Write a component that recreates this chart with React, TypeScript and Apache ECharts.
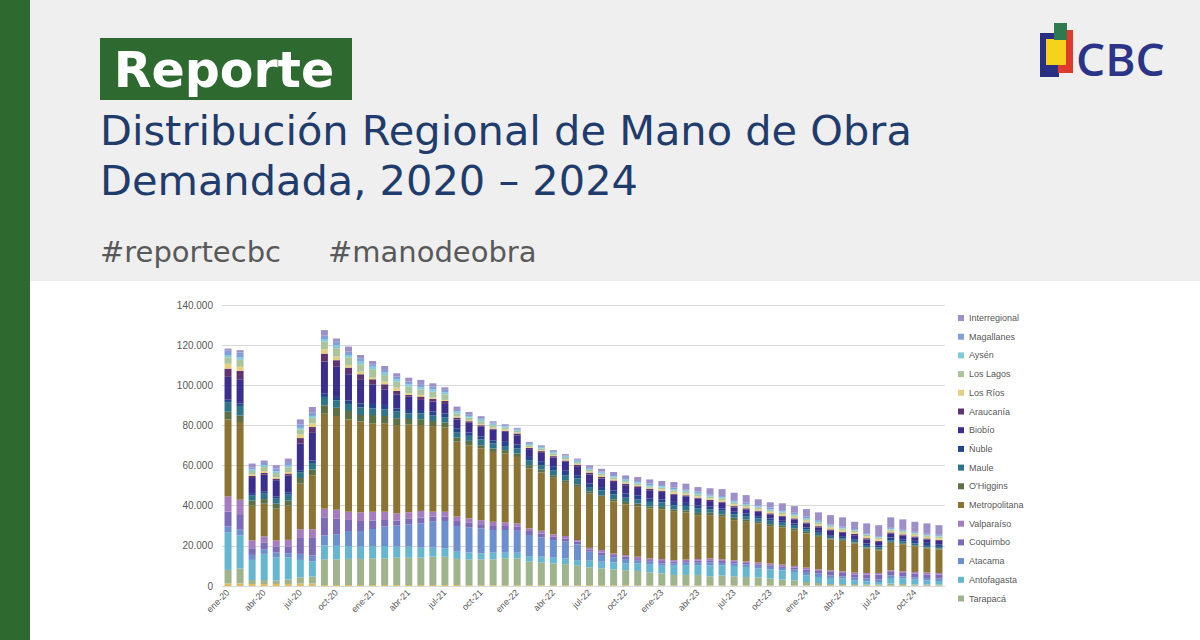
import React, { useEffect, useRef } from "react";
import * as echarts from "echarts";

// Months of the series, Jan 2020 – Dec 2024
const months = [
  "ene-20", "feb-20", "mar-20", "abr-20", "may-20", "jun-20", "jul-20", "ago-20", "sep-20", "oct-20", "nov-20", "dic-20",
  "ene-21", "feb-21", "mar-21", "abr-21", "may-21", "jun-21", "jul-21", "ago-21", "sep-21", "oct-21", "nov-21", "dic-21",
  "ene-22", "feb-22", "mar-22", "abr-22", "may-22", "jun-22", "jul-22", "ago-22", "sep-22", "oct-22", "nov-22", "dic-22",
  "ene-23", "feb-23", "mar-23", "abr-23", "may-23", "jun-23", "jul-23", "ago-23", "sep-23", "oct-23", "nov-23", "dic-23",
  "ene-24", "feb-24", "mar-24", "abr-24", "may-24", "jun-24", "jul-24", "ago-24", "sep-24", "oct-24", "nov-24", "dic-24",
];

// Workers demanded per region, bottom of the stack first
const arica = [
  1300, 1300, 1000, 1000, 1000, 1000, 1200, 1200, 500, 500, 500, 500,
  500, 500, 500, 500, 500, 500, 500, 500, 400, 400, 400, 400,
  400, 400, 400, 400, 400, 400, 400, 400, 400, 400, 300, 300,
  300, 300, 300, 300, 300, 300, 300, 300, 300, 300, 300, 300,
  300, 300, 200, 200, 200, 200, 200, 200, 200, 200, 200, 200,
];
const tarapaca = [
  6700, 7400, 2000, 2000, 1700, 2300, 3100, 3500, 12800, 12800, 13000, 13000,
  13300, 13300, 13600, 13600, 13600, 14100, 14100, 13000, 12900, 12900, 12900, 13400,
  13400, 11700, 11200, 10900, 10500, 9700, 8900, 8400, 7900, 7500, 7200, 6500,
  6000, 5200, 5200, 5200, 4500, 5000, 4500, 4200, 3900, 3400, 2900, 2500,
  1700, 1200, 800, 800, 800, 600, 500, 1000, 800, 600, 600, 500,
];
const antofagasta = [
  18800, 16500, 10000, 13000, 11500, 10900, 8700, 7500, 6900, 6700, 6400, 6100,
  6100, 6100, 5500, 5500, 5000, 4500, 4200, 3600, 3400, 3000, 3300, 2800,
  2800, 2800, 3000, 2800, 2900, 2800, 3300, 3300, 3500, 3400, 3800, 4100,
  3800, 4600, 4900, 4900, 5500, 5000, 5200, 5000, 4500, 4500, 4600, 4200,
  3300, 3000, 3000, 2700, 1800, 1500, 1300, 2800, 2700, 2400, 2000, 1800,
];
const atacama = [
  2900, 3100, 2500, 2300, 2500, 2100, 3000, 3000, 5000, 5800, 7500, 7800,
  8500, 9700, 10500, 11100, 12100, 13000, 13600, 12800, 12500, 12400, 11300, 11300,
  10900, 10500, 9600, 8800, 8300, 7800, 4500, 3300, 2400, 2100, 1300, 1200,
  1200, 1200, 1200, 1200, 1400, 1200, 1200, 1200, 1300, 1300, 1200, 1200,
  1700, 1700, 1300, 1100, 1400, 1400, 1300, 1300, 1100, 1100, 1200, 1200,
];
const coquimbo = [
  7400, 7500, 3300, 3400, 3000, 3400, 8300, 9100, 9000, 7700, 5500, 5000,
  4200, 3300, 2500, 3000, 2900, 2500, 2200, 2500, 2500, 2100, 2000, 2000,
  2000, 2000, 2000, 1600, 1600, 1400, 1100, 1300, 1200, 1200, 800, 800,
  1100, 800, 800, 1000, 1100, 1000, 800, 800, 800, 800, 800, 1000,
  1200, 1300, 1700, 1700, 1600, 2000, 2400, 1700, 1700, 1900, 1800, 2000,
];
const valparaiso = [
  7500, 7200, 3900, 3000, 3000, 3300, 4000, 4000, 4300, 4500, 4100, 4300,
  4400, 4100, 3600, 3000, 3300, 2400, 2400, 2200, 2000, 2000, 2100, 1800,
  1700, 1300, 1300, 1200, 1200, 800, 800, 1200, 800, 800, 1200, 800,
  1000, 800, 800, 800, 900, 800, 800, 800, 900, 900, 900, 800,
  1000, 800, 800, 800, 900, 800, 800, 800, 800, 800, 900, 800,
];
const metropolitana = [
  38400, 38700, 17300, 16300, 15800, 17000, 22700, 26900, 47300, 46700, 46000, 45200,
  44100, 44100, 44000, 43900, 42800, 42700, 41900, 37300, 36400, 35700, 34800, 34300,
  33100, 29800, 29100, 28200, 26500, 26500, 27000, 26500, 26000, 25300, 25100, 24900,
  24800, 24400, 23400, 21900, 21600, 21200, 20000, 19700, 19500, 18600, 18500, 17800,
  17000, 16200, 15400, 15200, 14500, 12200, 11300, 13700, 13500, 12800, 12000, 11700,
];
const ohiggins = [
  3800, 3300, 2500, 2300, 2500, 2500, 2800, 2800, 4200, 4100, 4200, 3300,
  4100, 3600, 3400, 2600, 2900, 2500, 2500, 2000, 2200, 1600, 1700, 1700,
  1700, 1700, 1400, 1300, 1300, 1300, 1200, 800, 1000, 1200, 1400, 1100,
  1200, 900, 1100, 1100, 1200, 1200, 1200, 1200, 800, 1000, 800, 900,
  800, 800, 500, 500, 500, 500, 500, 500, 500, 500, 500, 500,
];
const maule = [
  4800, 4700, 2500, 2700, 2500, 3000, 2900, 3300, 4200, 3700, 3500, 3800,
  3300, 3300, 3300, 2800, 2900, 2700, 2500, 2500, 2500, 2900, 2500, 2000,
  2500, 2500, 2200, 2500, 2500, 2900, 2100, 2500, 2500, 2100, 2100, 2200,
  2200, 2000, 2200, 2200, 1700, 1800, 1700, 1600, 1700, 1700, 1500, 1300,
  1300, 1200, 800, 800, 800, 800, 900, 800, 900, 900, 800, 800,
];
const nuble = [
  1200, 1300, 1300, 1200, 1200, 1200, 1000, 1200, 1600, 1700, 1700, 2000,
  2200, 2200, 1600, 1700, 1700, 2000, 2100, 2200, 1700, 1600, 1600, 2100,
  2000, 1600, 2000, 2000, 2200, 1600, 1700, 1600, 2000, 2000, 2000, 1600,
  1600, 1700, 1500, 1600, 1300, 1200, 1300, 1400, 1100, 1200, 1000, 1200,
  900, 1000, 800, 700, 800, 1200, 1100, 1400, 1100, 1300, 1500, 1300,
];
const biobio = [
  11400, 12000, 7500, 8300, 8000, 8300, 13300, 13800, 16000, 15000, 13100, 11700,
  9800, 7800, 7000, 6700, 5000, 5000, 4700, 4400, 4800, 5000, 5300, 5000,
  4600, 3900, 4100, 4300, 4500, 4500, 4500, 4200, 4100, 4200, 3600, 4200,
  3700, 3600, 3300, 3300, 2800, 2800, 2200, 2000, 2200, 2000, 2000, 2000,
  2000, 1700, 2200, 2000, 2000, 2000, 1700, 2000, 1900, 1700, 1700, 1700,
];
const araucania = [
  4100, 4200, 1000, 800, 800, 1000, 2700, 2900, 4000, 3300, 3300, 2800,
  2500, 2500, 1700, 800, 1700, 1300, 1500, 900, 800, 500, 500, 500,
  900, 600, 900, 700, 600, 700, 1000, 800, 800, 800, 900, 800,
  500, 500, 500, 500, 700, 500, 600, 500, 500, 500, 500, 500,
  500, 600, 700, 500, 700, 600, 500, 500, 500, 500, 500, 500,
];
const losRios = [
  2400, 2000, 700, 900, 700, 800, 1800, 1800, 2200, 1800, 1300, 1300,
  800, 1300, 1600, 800, 800, 700, 500, 500, 500, 500, 500, 600,
  500, 500, 500, 500, 500, 500, 500, 700, 500, 500, 500, 500,
  800, 900, 800, 700, 700, 800, 900, 800, 800, 800, 800, 800,
  800, 900, 1000, 1000, 800, 1000, 1000, 800, 800, 800, 800, 1000,
];
const losLagos = [
  3200, 3500, 1800, 2100, 2100, 2400, 2500, 2800, 3700, 4200, 3700, 3700,
  4200, 3300, 3000, 3300, 2800, 2900, 2800, 1600, 1300, 1500, 1200, 1000,
  800, 800, 800, 800, 800, 800, 900, 1000, 900, 800, 800, 700,
  800, 800, 900, 1000, 800, 900, 800, 800, 900, 800, 900, 800,
  800, 800, 600, 700, 700, 700, 500, 700, 700, 700, 700, 700,
];
const aysen = [
  1200, 1100, 800, 900, 900, 800, 800, 900, 1300, 1500, 1300, 1300,
  1300, 1200, 1200, 1200, 1000, 1200, 1000, 900, 800, 800, 800, 700,
  600, 700, 700, 700, 700, 700, 500, 500, 600, 700, 700, 600,
  700, 600, 600, 700, 500, 500, 500, 500, 500, 500, 500, 500,
  500, 500, 400, 300, 300, 300, 300, 300, 300, 300, 300, 300,
];
const magallanes = [
  2100, 2500, 900, 1100, 1300, 1300, 1700, 1600, 1700, 1700, 1700, 1700,
  1200, 1300, 1300, 1300, 1200, 1300, 1200, 800, 900, 700, 500, 500,
  400, 500, 500, 500, 500, 500, 500, 600, 700, 800, 600, 700,
  600, 700, 700, 600, 700, 600, 800, 700, 600, 700, 600, 700,
  700, 800, 500, 500, 500, 500, 500, 500, 500, 500, 500, 500,
];
const interregional = [
  1100, 1200, 2000, 1200, 1700, 2200, 2500, 2900, 2800, 1600, 2500, 1600,
  1600, 2000, 1700, 2000, 2500, 1700, 1300, 1700, 1100, 1000, 700, 500,
  500, 500, 400, 500, 700, 600, 1200, 1300, 1500, 1300, 2000, 2100,
  2000, 2800, 2800, 2300, 3000, 3500, 3700, 3800, 2900, 2700, 3400, 3300,
  3800, 3900, 4600, 4700, 3700, 4900, 5500, 5200, 5200, 5000, 5200, 4800,
];

// Stack order (bottom → top) and colours
const regions: { name: string; data: number[]; color: string }[] = [
  { name: "Arica y Parinacota", data: arica, color: "#dcbd62" },
  { name: "Tarapacá", data: tarapaca, color: "#9fb48c" },
  { name: "Antofagasta", data: antofagasta, color: "#66b6cf" },
  { name: "Atacama", data: atacama, color: "#6c8fcf" },
  { name: "Coquimbo", data: coquimbo, color: "#7c6bb6" },
  { name: "Valparaíso", data: valparaiso, color: "#a47cbf" },
  { name: "Metropolitana", data: metropolitana, color: "#8b7433" },
  { name: "O'Higgins", data: ohiggins, color: "#5c6f45" },
  { name: "Maule", data: maule, color: "#2f7587" },
  { name: "Ñuble", data: nuble, color: "#24468f" },
  { name: "Biobío", data: biobio, color: "#3b2e8c" },
  { name: "Araucanía", data: araucania, color: "#5e3572" },
  { name: "Los Ríos", data: losRios, color: "#e4cf82" },
  { name: "Los Lagos", data: losLagos, color: "#abc49c" },
  { name: "Aysén", data: aysen, color: "#82c9da" },
  { name: "Magallanes", data: magallanes, color: "#82a0d8" },
  { name: "Interregional", data: interregional, color: "#9d90c9" },
];

// Legend shows the regions top of stack first
const legendNames = [
  "Interregional", "Magallanes", "Aysén", "Los Lagos", "Los Ríos", "Araucanía", "Biobío", "Ñuble",
  "Maule", "O'Higgins", "Metropolitana", "Valparaíso", "Coquimbo", "Atacama", "Antofagasta", "Tarapacá",
];

const yTicks = { max: 140000, interval: 20000 };

const GREEN = "#2e6a30";
const NAVY = "#1f3c6d";
const GREY_TEXT = "#595959";
const HEAD_FONT = "'DejaVu Sans', sans-serif";

const fmtThousands = (v: number) => String(v).replace(/\B(?=(\d{3})+(?!\d))/g, ".");

export default function App() {
  const ref = useRef<HTMLDivElement>(null);

  useEffect(() => {
    if (!ref.current) return;
    const chart = echarts.init(ref.current, undefined, { renderer: "svg" });

    chart.setOption({
      animation: false,
      backgroundColor: "#ffffff",
      graphic: [
        // header band
        { type: "rect", left: 0, top: 0, z: -10, shape: { width: 1200, height: 281 }, style: { fill: "#efefef" } },
        // left strip
        { type: "rect", left: 0, top: 0, z: 10, shape: { width: 30, height: 640 }, style: { fill: GREEN } },
        // "Reporte" tag
        { type: "rect", left: 100, top: 38, shape: { width: 252, height: 62 }, style: { fill: GREEN } },
        {
          type: "text", x: 224, y: 70,
          style: { text: "Reporte", fill: "#ffffff", font: `bold 49px ${HEAD_FONT}`, align: "center", verticalAlign: "middle" },
        },
        {
          type: "text", x: 100, y: 130,
          style: { text: "Distribución Regional de Mano de Obra", fill: NAVY, font: `41.5px ${HEAD_FONT}`, verticalAlign: "middle" },
        },
        {
          type: "text", x: 100, y: 180,
          style: { text: "Demandada, 2020 – 2024", fill: NAVY, font: `41.5px ${HEAD_FONT}`, verticalAlign: "middle" },
        },
        {
          type: "text", x: 100, y: 252,
          style: { text: "#reportecbc", fill: GREY_TEXT, font: `29px ${HEAD_FONT}`, verticalAlign: "middle" },
        },
        {
          type: "text", x: 328, y: 252,
          style: { text: "#manodeobra", fill: GREY_TEXT, font: `29px ${HEAD_FONT}`, verticalAlign: "middle" },
        },
        // CBC logo
        { type: "rect", shape: { x: 1040, y: 33, width: 19, height: 44 }, style: { fill: "#2b2f84" } },
        { type: "rect", shape: { x: 1058, y: 30, width: 15, height: 43 }, style: { fill: "#e03a2e" } },
        { type: "rect", shape: { x: 1046, y: 39, width: 20, height: 26 }, style: { fill: "#f6d21c" } },
        { type: "rect", shape: { x: 1054, y: 23, width: 13, height: 17 }, style: { fill: "#2e7a4c" } },
        {
          type: "text", x: 1076, y: 58,
          style: { text: "CBC", fill: "#2b3488", font: "600 46px 'Open Sans', sans-serif", verticalAlign: "middle" },
        },
      ],
      grid: { left: 222, right: 255, top: 305, bottom: 54 },
      legend: {
        data: legendNames,
        orient: "vertical",
        left: 953,
        top: 307,
        icon: "rect",
        itemWidth: 6,
        itemHeight: 6,
        itemGap: 6.7,
        textStyle: { fontSize: 9, lineHeight: 12, color: GREY_TEXT, fontFamily: "'Liberation Sans', Arial, sans-serif" },
        selectedMode: false,
      },
      xAxis: {
        type: "category",
        data: months,
        axisTick: { show: false },
        axisLine: { lineStyle: { color: "#d9d9d9" } },
        axisLabel: {
          interval: 2,
          rotate: 45,
          fontSize: 9,
          margin: 5,
          color: GREY_TEXT,
          fontFamily: "'Liberation Sans', Arial, sans-serif",
        },
      },
      yAxis: {
        type: "value",
        min: 0,
        max: yTicks.max,
        interval: yTicks.interval,
        axisLine: { show: false },
        axisTick: { show: false },
        splitLine: { lineStyle: { color: "#d9d9d9", width: 1 } },
        axisLabel: {
          formatter: (v: number) => fmtThousands(v),
          fontSize: 10,
          margin: 9,
          color: GREY_TEXT,
          fontFamily: "'Liberation Sans', Arial, sans-serif",
        },
      },
      series: regions.map((r) => ({
        name: r.name,
        type: "bar",
        stack: "total",
        data: r.data,
        barCategoryGap: "42%",
        itemStyle: { color: r.color },
        emphasis: { disabled: true },
      })),
    });

    return () => chart.dispose();
  }, []);

  return <div ref={ref} style={{ position: "absolute", left: 0, top: 0, width: 1200, height: 640 }} />;
}
